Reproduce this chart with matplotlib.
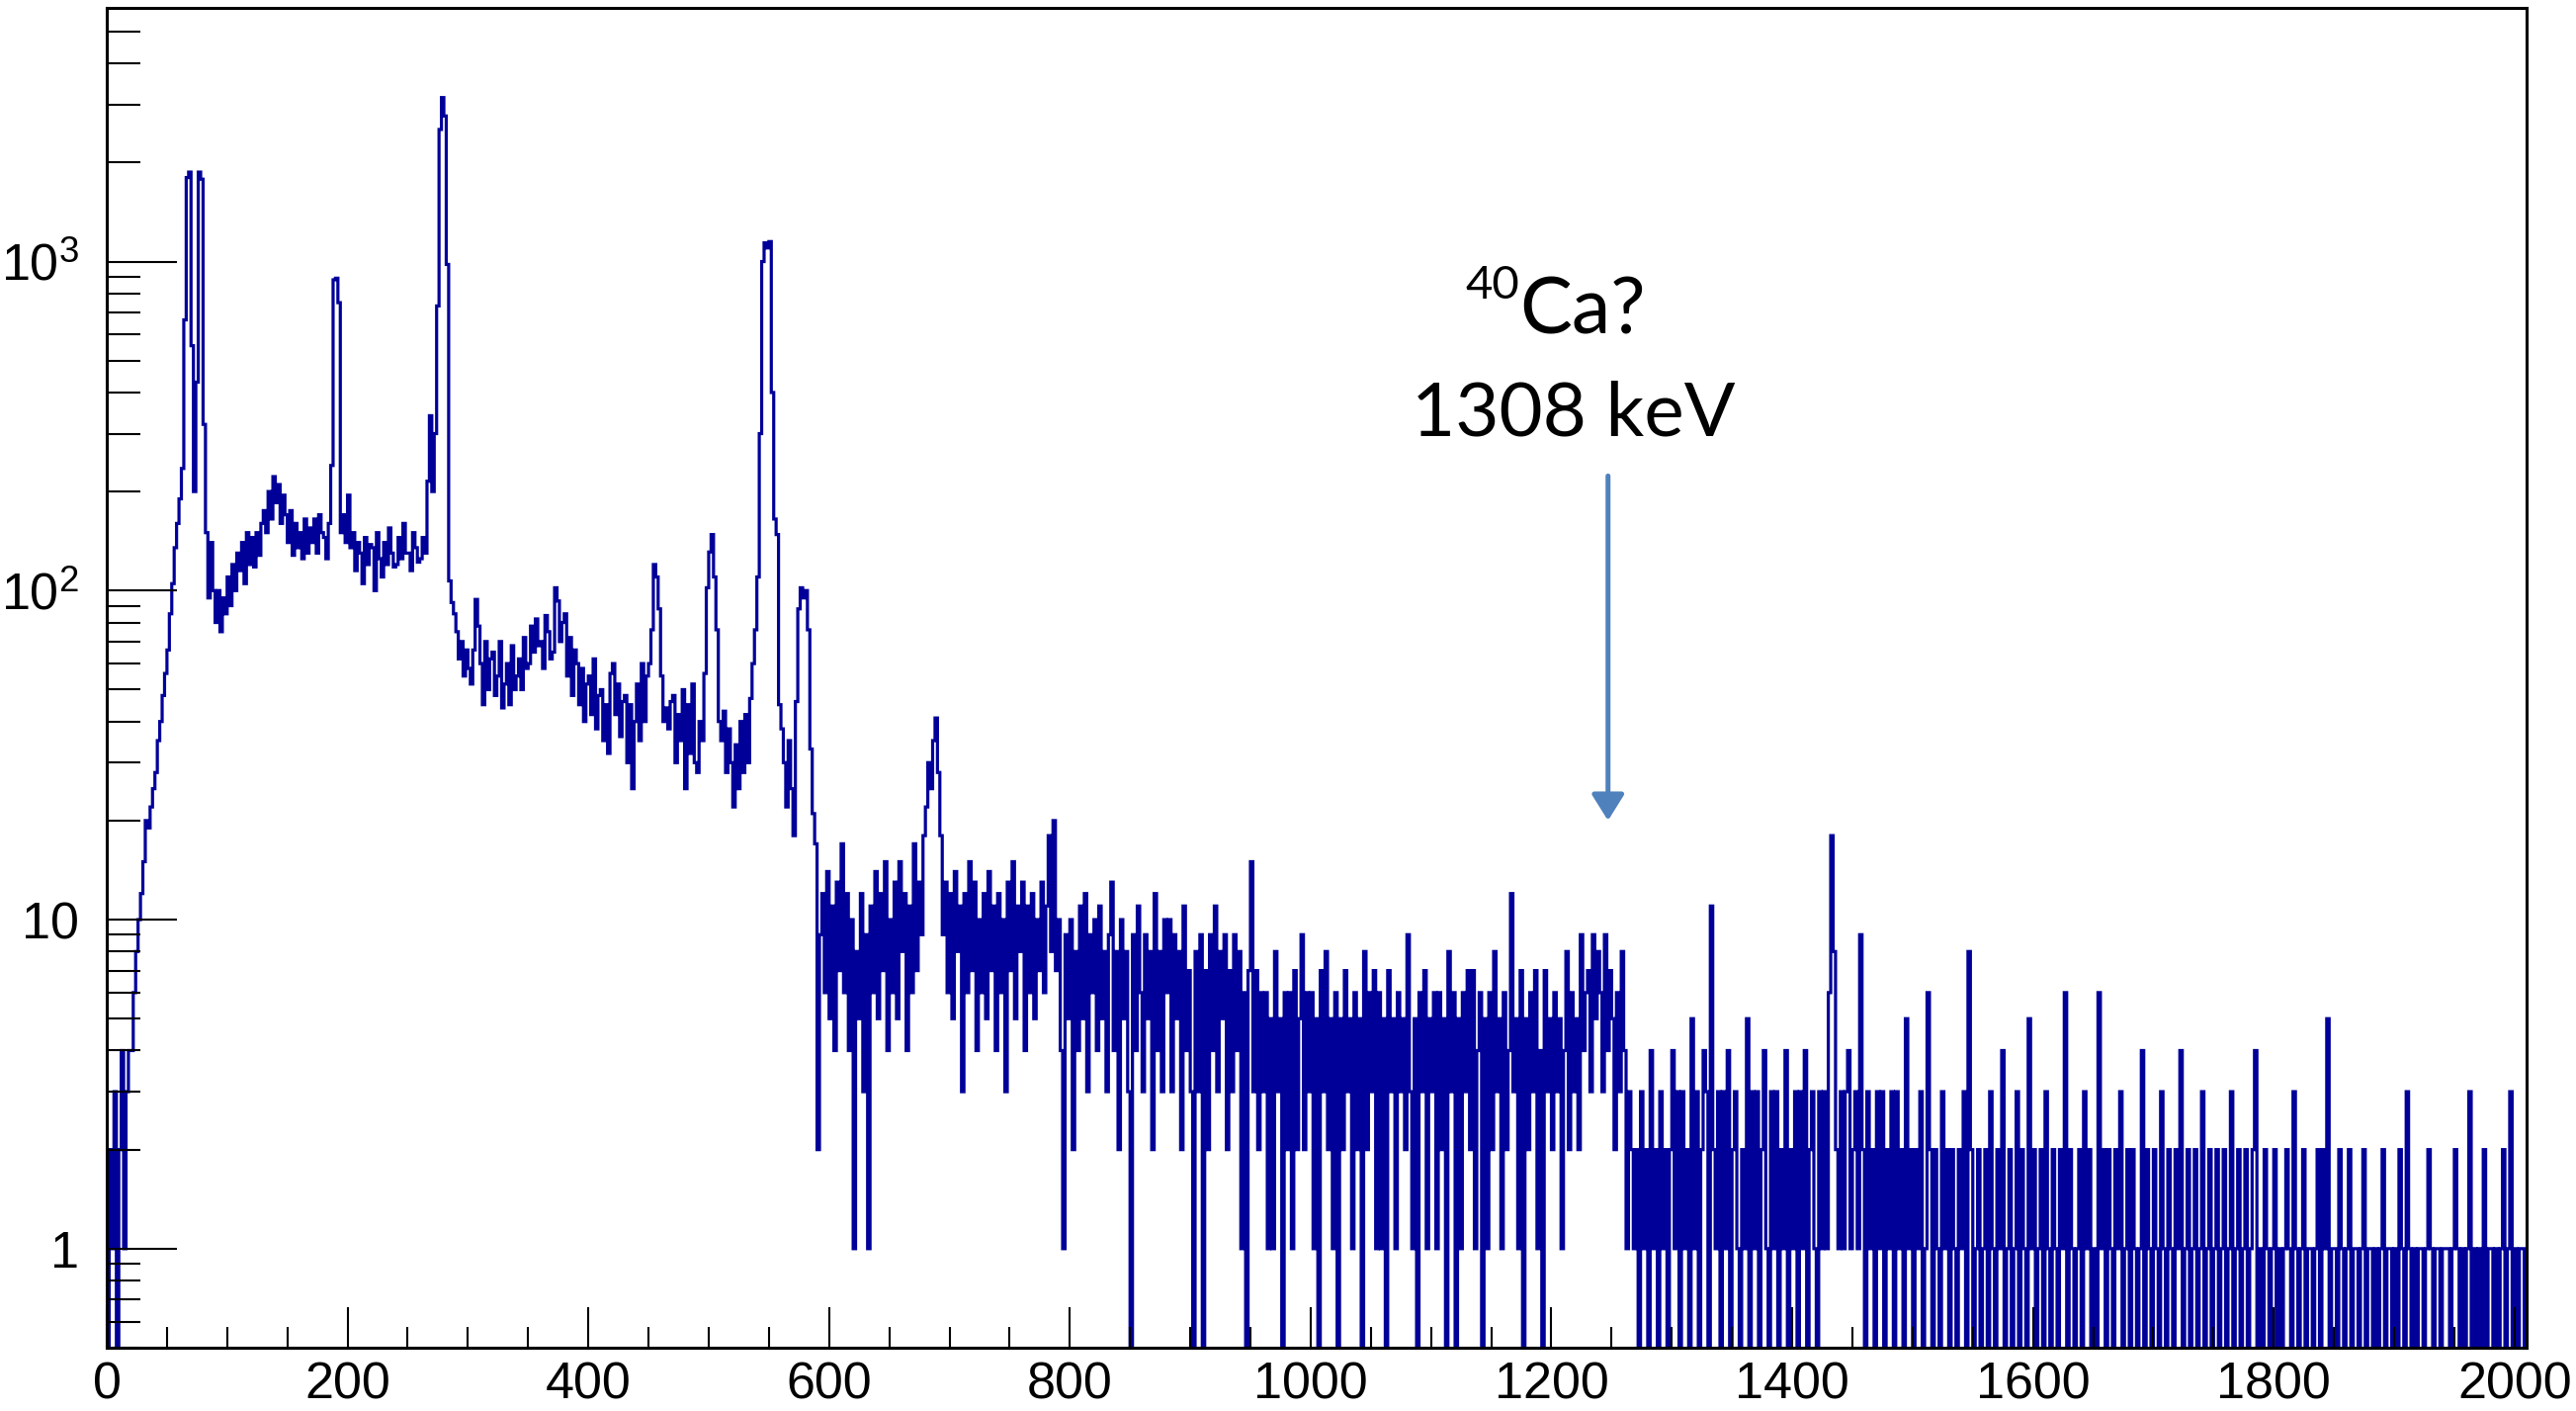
import numpy as np
import matplotlib
matplotlib.use("Agg")
import matplotlib.pyplot as plt
from matplotlib.ticker import FixedLocator, FixedFormatter, MultipleLocator, NullFormatter

plt.rcParams["font.family"] = ["Liberation Sans", "DejaVu Sans"]
plt.rcParams["mathtext.fontset"] = "custom"
plt.rcParams["mathtext.rm"] = "Liberation Sans"
plt.rcParams["mathtext.it"] = "Liberation Sans:italic"

######## spectrum: counts per 2 keV bin ########
BIN_WIDTH = 2.0
E_MAX = 2010

c_0000_0100 = [0, 2, 1, 3, 0, 2, 4, 1, 3, 4, 4, 6, 8, 10, 12, 15, 20, 19, 22, 25,
               28, 35, 40, 48, 56, 66, 85, 105, 135, 160, 190, 235, 665, 1800, 1870,
               555, 200, 430, 1870, 1780, 320, 150, 95, 140, 100, 80, 100, 75, 95, 85]
c_0100_0200 = [110, 90, 120, 100, 130, 115, 140, 105, 150, 120, 145, 118, 150, 128, 160,
               175, 150, 200, 165, 222, 185, 210, 160, 195, 170, 140, 175, 128, 160, 135,
               150, 125, 165, 130, 155, 140, 165, 130, 170, 150, 145, 125, 160, 240, 880,
               890, 750, 150, 170, 140]
c_0200_0300 = [195, 135, 150, 115, 140, 130, 105, 145, 120, 138, 135, 100, 150, 125, 110,
               140, 120, 155, 130, 118, 120, 145, 125, 160, 130, 130, 115, 150, 135, 122,
               125, 145, 130, 215, 340, 200, 300, 733, 2520, 3150, 2770, 980, 107, 92, 85,
               75, 62, 70, 55, 66]
c_0300_0400 = [58, 52, 66, 94, 78, 60, 45, 70, 50, 62, 65, 48, 55, 70, 44, 52, 60, 45, 68, 50,
               55, 62, 50, 72, 58, 60, 78, 65, 82, 68, 70, 58, 84, 75, 62, 65, 102, 93, 70, 80,
               85, 55, 72, 48, 66, 60, 45, 58, 40, 52]
c_0400_0500 = [55, 42, 62, 38, 48, 50, 35, 45, 32, 56, 60, 42, 52, 36, 46, 48, 30, 45, 25, 40,
               52, 35, 60, 40, 55, 60, 76, 120, 110, 88, 55, 40, 44, 38, 46, 48, 30, 42, 35, 50,
               25, 45, 32, 52, 30, 28, 40, 35, 56, 102]
c_0500_0600 = [131, 148, 110, 76, 40, 35, 43, 28, 38, 30, 22, 34, 25, 40, 28, 42, 30, 47, 60, 76,
               110, 300, 1000, 1140, 1100, 1150, 400, 165, 148, 45, 38, 30, 22, 35, 25,
               18, 46, 88, 102, 95, 100, 76, 33, 21, 17, 2, 9, 12, 6, 14]
c_0600_0700 = [5, 11, 4, 13, 7, 17, 6, 12, 4, 10, 1, 8, 5, 12, 3, 9, 1, 11, 6, 14,
               5, 12, 7, 15, 4, 10, 6, 13, 5, 15, 8, 12, 4, 11, 6, 17, 7, 13, 9, 18,
               22, 30, 25, 35, 41, 28, 18, 9, 13, 6]
c_0700_0800 = [12, 5, 14, 8, 11, 3, 12, 6, 15, 7, 13, 4, 10, 6, 12, 5, 14, 7, 11, 4,
               12, 6, 10, 3, 13, 7, 15, 5, 11, 8, 13, 4, 11, 6, 12, 5, 10, 7, 13, 6,
               11, 18, 8, 20, 7, 10, 4, 1, 9, 5]
c_0800_0900 = [10, 2, 8, 4, 11, 5, 12, 3, 9, 6, 10, 4, 11, 5, 8, 3, 9, 13, 4, 8,
               2, 10, 5, 8, 3, 0, 9, 4, 11, 6, 3, 9, 5, 8, 2, 12, 4, 8, 3, 10,
               6, 10, 3, 9, 5, 8, 2, 11, 4, 7]
c_0900_1000 = [3, 0, 8, 3, 9, 0, 7, 2, 9, 4, 11, 3, 8, 5, 9, 2, 7, 3, 9, 4,
               8, 1, 6, 0, 7, 15, 3, 7, 2, 6, 3, 6, 1, 5, 1, 8, 3, 5, 0, 6,
               2, 6, 1, 7, 2, 5, 9, 2, 6, 3]
c_1000_1100 = [6, 1, 5, 0, 7, 3, 8, 2, 5, 1, 6, 0, 5, 2, 7, 3, 5, 1, 6, 2,
               5, 0, 8, 2, 6, 3, 7, 1, 6, 1, 5, 0, 7, 3, 5, 1, 6, 3, 5, 2,
               9, 3, 1, 5, 0, 6, 3, 7, 1, 5]
c_1100_1200 = [3, 6, 1, 6, 2, 5, 0, 8, 3, 6, 0, 5, 1, 6, 3, 7, 2, 7, 1, 4,
               6, 0, 5, 1, 6, 2, 8, 3, 5, 1, 6, 2, 4, 12, 3, 5, 1, 7, 0, 5,
               2, 6, 3, 7, 1, 4, 0, 7, 3, 5]
c_1200_1300 = [2, 6, 3, 5, 1, 4, 8, 2, 6, 3, 5, 2, 9, 4, 6, 7, 3, 9, 5, 8,
               6, 3, 9, 4, 7, 5, 2, 6, 3, 8, 4, 1, 3, 2, 1, 2, 0, 3, 1, 2,
               0, 4, 1, 2, 0, 3, 1, 2, 0, 2]
c_1300_1400 = [4, 1, 3, 0, 3, 1, 2, 0, 5, 1, 3, 0, 2, 4, 3, 0, 11, 2, 1, 3,
               0, 3, 1, 4, 0, 2, 3, 1, 0, 2, 1, 5, 0, 3, 1, 3, 0, 2, 4, 1,
               0, 3, 1, 3, 0, 2, 1, 4, 0, 2]
c_1400_1500 = [1, 3, 0, 3, 1, 4, 0, 2, 3, 1, 0, 3, 1, 3, 1, 6, 18, 8, 2, 1,
               3, 1, 3, 4, 1, 2, 3, 1, 9, 2, 0, 3, 1, 2, 0, 3, 1, 3, 0, 2,
               1, 3, 0, 3, 1, 2, 0, 5, 1, 2]
c_1500_1600 = [0, 2, 1, 3, 0, 1, 6, 2, 0, 2, 1, 0, 3, 1, 2, 0, 2, 1, 0, 2,
               1, 3, 0, 8, 2, 0, 1, 2, 0, 1, 2, 0, 3, 1, 0, 2, 1, 4, 0, 1,
               2, 0, 1, 3, 0, 2, 1, 0, 5, 1]
c_1600_1700 = [2, 0, 1, 2, 0, 3, 1, 0, 2, 1, 0, 2, 1, 6, 0, 2, 1, 0, 1, 2,
               0, 3, 1, 2, 0, 1, 0, 6, 1, 2, 0, 2, 1, 0, 2, 1, 3, 0, 1, 2,
               0, 2, 1, 0, 1, 4, 0, 2, 1, 0]
c_1700_1800 = [2, 1, 0, 3, 1, 0, 2, 1, 0, 2, 1, 4, 0, 1, 2, 0, 1, 2, 0, 1,
               3, 0, 1, 2, 0, 1, 2, 0, 1, 2, 0, 1, 3, 0, 1, 2, 0, 1, 2, 0,
               1, 2, 4, 0, 1, 0, 2, 1, 0, 1]
c_1800_1900 = [2, 0, 1, 0, 1, 2, 1, 0, 3, 1, 0, 1, 2, 0, 1, 1, 0, 1, 2, 0,
               2, 1, 5, 0, 1, 1, 0, 2, 1, 0, 1, 2, 0, 1, 1, 0, 1, 2, 0, 1,
               1, 0, 1, 0, 1, 2, 0, 1, 1, 0]
c_1900_2010 = [1, 0, 2, 1, 0, 3, 1, 0, 1, 0, 1, 1, 0, 1, 2, 1, 0, 1, 1, 0,
               1, 1, 1, 0, 1, 2, 1, 0, 1, 0, 1, 3, 0, 1, 0, 1, 0, 2, 0, 1,
               1, 0, 1, 0, 1, 2, 0, 1, 3, 0, 1, 0, 1, 1, 0]

counts = np.array(c_0000_0100 + c_0100_0200 + c_0200_0300 + c_0300_0400 + c_0400_0500 +
                  c_0500_0600 + c_0600_0700 + c_0700_0800 + c_0800_0900 + c_0900_1000 +
                  c_1000_1100 + c_1100_1200 + c_1200_1300 + c_1300_1400 + c_1400_1500 +
                  c_1500_1600 + c_1600_1700 + c_1700_1800 + c_1800_1900 + c_1900_2010, dtype=float)
edges = np.arange(len(counts) + 1) * BIN_WIDTH

# annotation
LABEL_ISO = "Ca?"
LABEL_MASS = "40"
LABEL_ENERGY = "1308 keV"
ARROW_X = 1247
ARROW_Y_FROM, ARROW_Y_TO = 223, 20

LINE_COLOR = "#000099"
ARROW_COLOR = "#4F81BD"

fig = plt.figure(figsize=(26.06, 14.27), dpi=100)
ax = fig.add_axes([108 / 2606, 64 / 1427, (2556 - 108) / 2606, (1419 - 64) / 1427])

# zero bins drop below the axis, the way ROOT draws them
plot_counts = np.where(counts > 0, counts, 1e-3)
ax.stairs(plot_counts, edges, baseline=None, color=LINE_COLOR, lw=2.3)

ax.set_yscale("log")
ax.set_xlim(0, E_MAX)
ax.set_ylim(0.5, 5900)

ax.yaxis.set_major_locator(FixedLocator([1, 10, 100, 1000]))
ax.yaxis.set_major_formatter(FixedFormatter(["1", "10", "$10^{2}$", "$10^{3}$"]))
minor = [m * 10 ** d for d in range(-1, 4) for m in range(2, 10)]
ax.yaxis.set_minor_locator(FixedLocator(minor))
ax.yaxis.set_minor_formatter(NullFormatter())
ax.xaxis.set_major_locator(MultipleLocator(200))
ax.xaxis.set_minor_locator(MultipleLocator(50))

ax.tick_params(axis="both", which="both", direction="in", top=False, right=False,
               labelsize=37.5, width=1.5, colors="black")
ax.tick_params(axis="y", which="major", length=51, pad=20)
ax.tick_params(axis="y", which="minor", length=24.5)
ax.tick_params(axis="x", which="major", length=29.5, pad=10)
ax.tick_params(axis="x", which="minor", length=15)
for s in ax.spines.values():
    s.set_linewidth(2.2)

ax.annotate("", xy=(ARROW_X, ARROW_Y_TO), xytext=(ARROW_X, ARROW_Y_FROM),
            arrowprops=dict(arrowstyle="-|>,head_length=0.4,head_width=0.25",
                            mutation_scale=40, lw=3.6, color=ARROW_COLOR,
                            shrinkA=0, shrinkB=0))

fig.text(1537 / 2606, 1 - 337 / 1427, LABEL_ISO, family="Lato", fontsize=57,
         ha="left", va="baseline")
fig.text(1537 / 2606, 1 - 302 / 1427, LABEL_MASS, family="Lato", fontsize=34,
         ha="right", va="baseline")
fig.text(1592 / 2606, 1 - 440 / 1427, LABEL_ENERGY, family="Lato", fontsize=55,
         ha="center", va="baseline")

fig.savefig("out.png", dpi=100)
